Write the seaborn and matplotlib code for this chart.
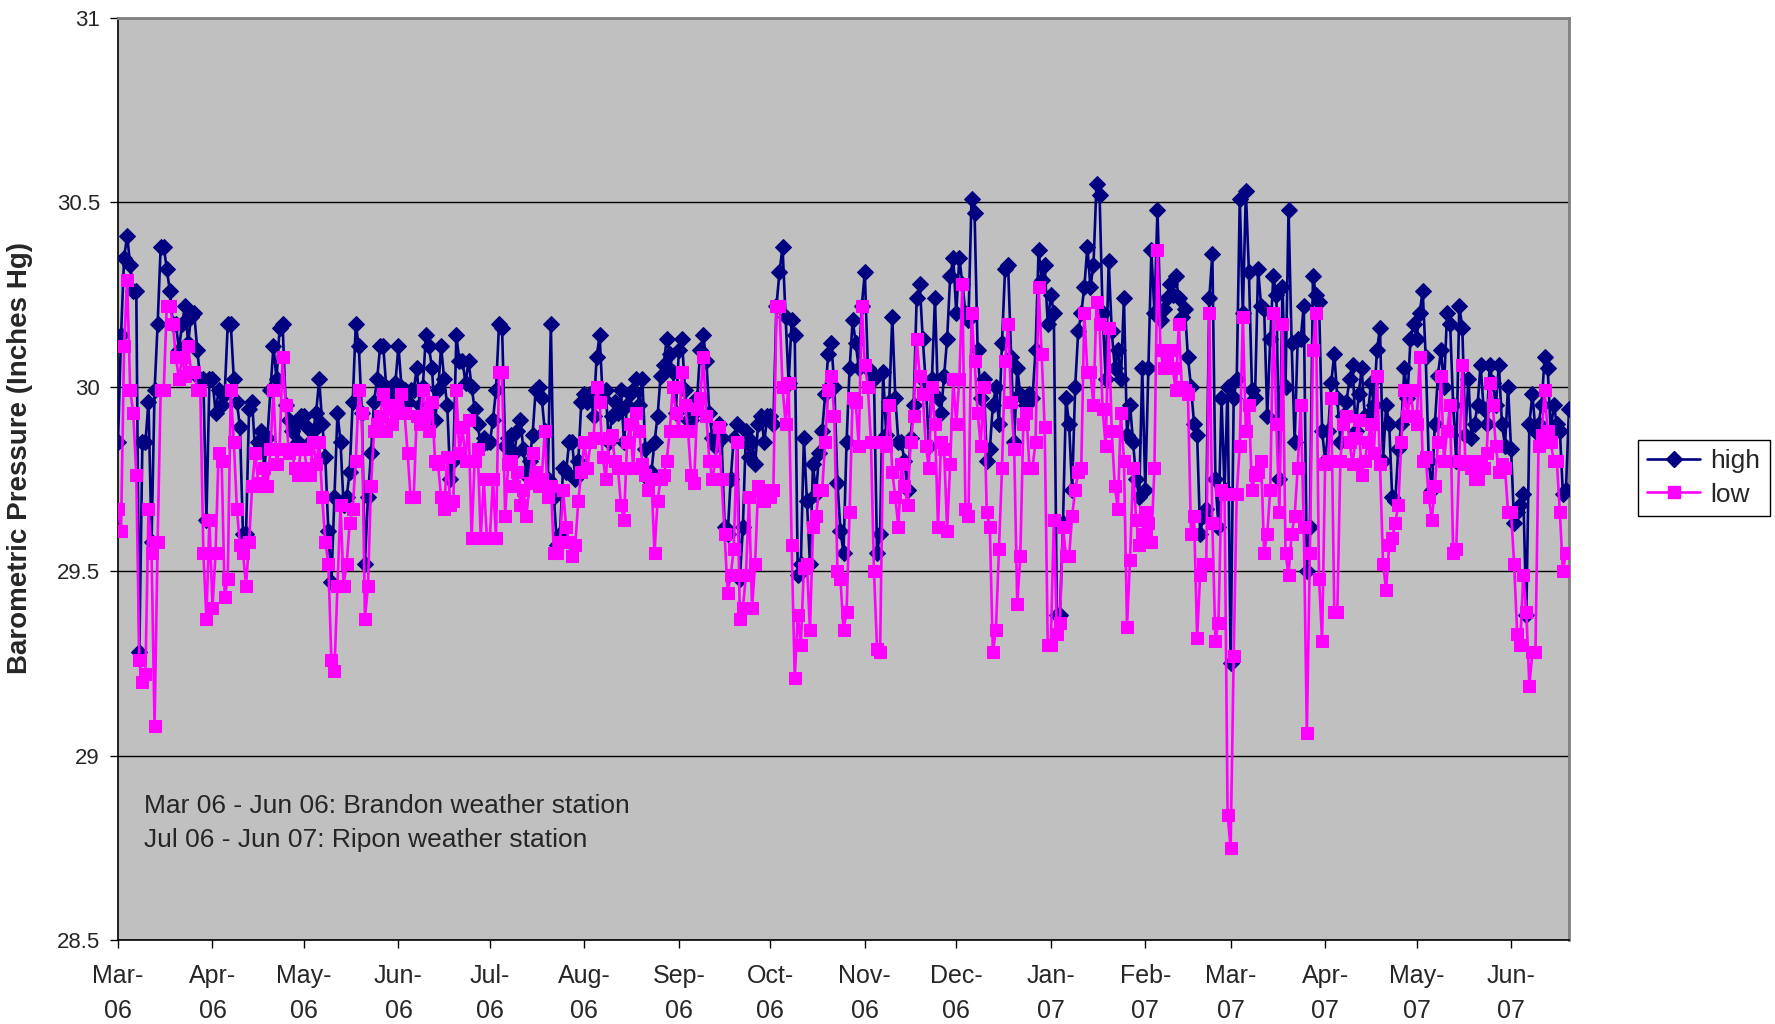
import pandas as pd
import matplotlib
matplotlib.use("Agg")
import matplotlib.pyplot as plt
import matplotlib.dates as mdates
import seaborn as sns
from matplotlib.lines import Line2D

# Daily barometric pressure readings (inches Hg), one value per day from 1 Mar 2006
start_date = "2006-03-01"

high_2006 = [
    # Mar
    29.85, 30.14, 30.35, 30.41, 30.33, 30.26, 30.26, 29.28, 29.85, 29.85,
    29.96, 29.58, 29.99, 30.17, 30.38, 30.38, 30.32, 30.26, 30.17, 30.17,
    30.10, 30.17, 30.22, 30.12, 30.19, 30.20, 30.10, 30.02, 30.02, 29.64, 30.02,
    # Apr
    30.02, 29.93, 29.99, 29.95, 29.98, 30.17, 30.17, 30.02, 29.96, 29.89,
    29.60, 29.60, 29.94, 29.96, 29.82, 29.85, 29.88, 29.78, 29.86, 29.99,
    30.11, 30.02, 30.16, 30.17, 29.95, 29.91, 29.88, 29.90, 29.85, 29.92,
    # May
    29.92, 29.89, 29.85, 29.88, 29.93, 30.02, 29.90, 29.81, 29.61, 29.47,
    29.70, 29.93, 29.85, 29.68, 29.70, 29.77, 29.96, 30.17, 30.11, 29.93,
    29.52, 29.70, 29.82, 29.96, 30.02, 30.11, 30.11, 30.00, 29.99, 29.96, 30.01,
    # Jun
    30.11, 30.00, 29.99, 29.96, 29.99, 29.99, 30.05, 29.95, 30.00, 30.14,
    30.11, 30.05, 29.91, 29.99, 30.11, 30.02, 29.95, 29.75, 29.80, 30.14,
    30.07, 30.07, 30.01, 30.07, 30.00, 29.94, 29.90, 29.84, 29.86, 29.85,
    # Jul
    29.85, 29.91, 29.99, 30.17, 30.16, 29.84, 29.86, 29.87, 29.82, 29.88,
    29.91, 29.83, 29.76, 29.80, 29.87, 29.99, 30.00, 29.97, 29.88, 29.75,
    30.17, 29.70, 29.57, 29.60, 29.78, 29.77, 29.85, 29.85, 29.75, 29.80, 29.96,
    # Aug
    29.98, 29.96, 29.98, 29.92, 30.08, 30.14, 29.97, 29.99, 29.85, 29.92,
    29.96, 29.93, 29.99, 29.85, 29.95, 29.98, 29.99, 30.02, 29.95, 30.02,
    29.83, 29.75, 29.77, 29.85, 29.92, 30.03, 30.06, 30.13, 30.09, 30.04, 29.93,
    # Sep
    30.10, 30.13, 29.99, 29.91, 29.91, 29.93, 29.97, 30.10, 30.14, 30.07,
    29.93, 29.86, 29.84, 29.90, 29.86, 29.62, 29.60, 29.75, 29.86, 29.90,
    29.48, 29.62, 29.88, 29.81, 29.85, 29.79, 29.90, 29.92, 29.85, 29.92,
    # Oct
    29.92, 29.90, 30.22, 30.31, 30.38, 30.19, 30.01, 30.18, 30.14, 29.49,
    29.52, 29.86, 29.69, 29.52, 29.79, 29.71, 29.82, 29.88, 29.98, 30.09,
    30.12, 30.00, 29.74, 29.61, 29.55, 29.85, 30.05, 30.18, 30.12, 30.05, 30.22,
    # Nov
    30.31, 30.05, 30.04, 30.02, 29.55, 29.60, 30.04, 29.87, 29.96, 30.19,
    29.97, 29.85, 29.85, 29.80, 29.72, 29.86, 29.95, 30.24, 30.28, 30.13,
    30.01, 29.84, 30.02, 30.24, 29.97, 29.93, 30.03, 30.13, 30.30, 30.35,
    # Dec
    30.20, 30.35, 30.28, 30.20, 30.18, 30.51, 30.47, 30.10, 29.97, 30.02,
    29.80, 29.83, 29.95, 30.00, 29.90, 30.12, 30.32, 30.33, 30.08, 29.85,
    30.05, 29.98, 29.97, 29.95, 29.98, 29.97, 30.10, 30.37, 30.29, 30.33, 30.17,
]

high_2007 = [
    # Jan
    30.25, 30.20, 29.38, 29.38, 29.63, 29.97, 29.90, 29.72, 30.00, 30.15,
    30.20, 30.27, 30.38, 30.27, 30.33, 30.55, 30.52, 30.20, 30.02, 30.34,
    30.15, 30.05, 30.10, 30.02, 30.24, 29.87, 29.95, 29.85, 29.75, 29.70, 30.05,
    # Feb
    29.72, 30.05, 30.37, 30.20, 30.48, 30.18, 30.21, 30.24, 30.28, 30.25,
    30.30, 30.24, 30.19, 30.21, 30.08, 30.00, 29.90, 29.87, 29.60, 29.65,
    29.67, 30.24, 30.36, 29.75, 29.62, 29.97, 29.72, 30.00,
    # Mar
    29.25, 29.97, 30.02, 30.51, 30.20, 30.53, 30.31, 29.99, 29.97, 30.32,
    30.22, 30.21, 29.92, 30.13, 30.30, 30.25, 29.75, 30.27, 30.00, 30.48,
    30.12, 29.85, 30.13, 30.13, 30.22, 29.50, 29.62, 30.30, 30.25, 30.23, 29.88,
    # Apr
    29.80, 29.88, 30.01, 30.09, 29.97, 29.85, 29.92, 29.96, 30.02, 30.06,
    29.88, 29.98, 30.05, 29.92, 29.92, 30.01, 29.95, 30.10, 30.16, 29.80,
    29.95, 29.90, 29.70, 29.69, 29.83, 29.90, 30.05, 29.97, 30.13, 30.17,
    # May
    30.13, 30.20, 30.26, 30.08, 29.80, 29.72, 29.90, 30.03, 30.10, 30.00,
    30.20, 30.17, 29.95, 29.80, 30.22, 30.16, 29.87, 30.02, 29.86, 29.90,
    29.95, 30.06, 29.94, 29.90, 30.06, 30.01, 29.95, 30.06, 29.90, 29.84, 30.00,
    # Jun
    29.83, 29.63, 29.66, 29.68, 29.71, 29.38, 29.90, 29.98, 29.88, 29.90,
    29.95, 30.08, 30.05, 29.88, 29.95, 29.90, 29.88, 29.71, 29.72, 29.94,
]

low_2006 = [
    # Mar
    29.67, 29.61, 30.11, 30.29, 29.99, 29.93, 29.76, 29.26, 29.20, 29.22,
    29.67, 29.55, 29.08, 29.58, 29.99, 29.99, 30.22, 30.22, 30.17, 30.08,
    30.02, 30.08, 30.03, 30.11, 30.04, 30.04, 29.99, 29.99, 29.55, 29.37, 29.64,
    # Apr
    29.40, 29.55, 29.82, 29.80, 29.43, 29.48, 29.99, 29.85, 29.67, 29.57,
    29.55, 29.46, 29.58, 29.73, 29.82, 29.74, 29.73, 29.78, 29.73, 29.83,
    29.99, 29.79, 29.83, 30.08, 29.95, 29.82, 29.83, 29.78, 29.76, 29.83,
    # May
    29.83, 29.78, 29.76, 29.85, 29.79, 29.85, 29.70, 29.58, 29.52, 29.26,
    29.23, 29.46, 29.68, 29.46, 29.52, 29.63, 29.67, 29.80, 29.99, 29.93,
    29.37, 29.46, 29.73, 29.88, 29.90, 29.92, 29.98, 29.88, 29.95, 29.90, 29.95,
    # Jun
    29.93, 29.98, 29.93, 29.82, 29.70, 29.70, 29.92, 29.90, 29.99, 29.93,
    29.88, 29.96, 29.80, 29.79, 29.70, 29.67, 29.81, 29.68, 29.69, 29.99,
    29.82, 29.89, 29.80, 29.91, 29.59, 29.80, 29.83, 29.59, 29.75, 29.59,
    # Jul
    29.59, 29.75, 29.59, 30.04, 30.04, 29.65, 29.79, 29.80, 29.73, 29.77,
    29.68, 29.72, 29.65, 29.74, 29.82, 29.77, 29.73, 29.75, 29.88, 29.70,
    29.73, 29.55, 29.55, 29.58, 29.72, 29.62, 29.58, 29.54, 29.57, 29.69, 29.77,
    # Aug
    29.85, 29.78, 29.85, 29.86, 30.00, 29.96, 29.81, 29.75, 29.86, 29.87,
    29.80, 29.78, 29.68, 29.64, 29.85, 29.90, 29.78, 29.93, 29.88, 29.79,
    29.76, 29.72, 29.75, 29.55, 29.69, 29.75, 29.76, 29.80, 29.88, 30.00, 29.93,
    # Sep
    29.88, 30.04, 29.95, 29.88, 29.76, 29.74, 29.94, 29.97, 30.08, 29.92,
    29.80, 29.75, 29.80, 29.89, 29.75, 29.60, 29.44, 29.49, 29.56, 29.85,
    29.37, 29.40, 29.49, 29.70, 29.40, 29.52, 29.73, 29.72, 29.69, 29.71,
    # Oct
    29.70, 29.72, 30.22, 30.22, 30.00, 29.90, 30.01, 29.57, 29.21, 29.38,
    29.30, 29.51, 29.52, 29.34, 29.62, 29.65, 29.72, 29.72, 29.85, 29.99,
    30.03, 29.92, 29.50, 29.48, 29.34, 29.39, 29.66, 29.97, 29.96, 29.84, 30.22,
    # Nov
    30.06, 30.00, 29.85, 29.50, 29.29, 29.28, 29.85, 29.84, 29.95, 29.77,
    29.70, 29.62, 29.79, 29.73, 29.68, 29.85, 29.92, 30.13, 30.03, 29.98,
    29.84, 29.78, 30.00, 29.90, 29.62, 29.85, 29.83, 29.61, 29.79, 30.02,
    # Dec
    29.90, 30.02, 30.28, 29.67, 29.65, 30.20, 30.07, 29.93, 29.84, 30.00,
    29.66, 29.62, 29.28, 29.34, 29.56, 29.78, 30.07, 30.17, 29.96, 29.83,
    29.41, 29.54, 29.90, 29.93, 29.78, 29.78, 29.85, 30.27, 30.09, 29.89, 29.30,
]

low_2007 = [
    # Jan
    29.30, 29.64, 29.33, 29.36, 29.62, 29.54, 29.54, 29.65, 29.72, 29.77,
    29.78, 30.20, 30.04, 30.04, 29.95, 30.23, 30.17, 29.94, 29.84, 30.16,
    29.88, 29.73, 29.67, 29.93, 29.80, 29.35, 29.53, 29.78, 29.64, 29.57, 29.60,
    # Feb
    29.66, 29.63, 29.58, 29.78, 30.37, 30.10, 30.05, 30.08, 30.10, 30.05,
    29.99, 30.17, 30.00, 29.99, 29.98, 29.60, 29.65, 29.32, 29.49, 29.52,
    29.52, 30.20, 29.63, 29.31, 29.36, 29.72, 29.71, 28.84,
    # Mar
    28.75, 29.27, 29.71, 29.84, 30.19, 29.88, 29.95, 29.72, 29.76, 29.77,
    29.80, 29.55, 29.60, 29.72, 30.20, 29.90, 29.66, 30.17, 29.55, 29.49,
    29.60, 29.65, 29.78, 29.95, 29.62, 29.06, 29.55, 30.10, 30.20, 29.48, 29.31,
    # Apr
    29.79, 29.80, 29.97, 29.39, 29.39, 29.80, 29.90, 29.92, 29.85, 29.79,
    29.86, 29.91, 29.76, 29.80, 29.85, 29.90, 29.82, 30.03, 29.79, 29.52,
    29.45, 29.57, 29.59, 29.63, 29.68, 29.85, 29.99, 29.92, 29.99, 29.92,
    # May
    29.90, 30.08, 29.80, 29.81, 29.70, 29.64, 29.73, 29.85, 30.03, 29.80,
    29.88, 29.95, 29.55, 29.56, 29.80, 30.06, 29.79, 29.80, 29.78, 29.75,
    29.75, 29.80, 29.78, 29.82, 30.01, 29.95, 29.84, 29.77, 29.79, 29.78, 29.66,
    # Jun
    29.66, 29.52, 29.33, 29.30, 29.49, 29.39, 29.19, 29.28, 29.28, 29.84,
    29.87, 29.99, 29.88, 29.85, 29.80, 29.80, 29.66, 29.50, 29.55, 29.55,
]

station_notes = [
    "Mar 06 - Jun 06: Brandon weather station",
    "Jul 06 - Jun 07: Ripon weather station",
]
y_label = "Barometric Pressure (Inches Hg)"

high = high_2006 + high_2007
low = low_2006 + low_2007
dates = pd.date_range(start_date, periods=len(high), freq="D")
df = pd.DataFrame({"date": dates, "high": high, "low": low})

HIGH_COLOR = "#000080"
LOW_COLOR = "#FF00FF"

sns.set_style("white")
plt.rcParams["font.family"] = ["Liberation Sans", "DejaVu Sans"]

fig = plt.figure(figsize=(17.75, 10.24), dpi=100)
ax = fig.add_axes([118 / 1775, 1 - 940 / 1024, (1569 - 118) / 1775, (940 - 18) / 1024])
ax.set_facecolor("#C0C0C0")

sns.lineplot(data=df, x="date", y="high", ax=ax, color=HIGH_COLOR, lw=1.9,
             marker="D", markersize=8.5, markeredgecolor=HIGH_COLOR,
             markerfacecolor=HIGH_COLOR, zorder=3)
sns.lineplot(data=df, x="date", y="low", ax=ax, color=LOW_COLOR, lw=1.9,
             marker="s", markersize=9, markeredgecolor=LOW_COLOR,
             markerfacecolor=LOW_COLOR, zorder=4)

ax.set_ylim(28.5, 31)
ax.set_yticks([28.5, 29, 29.5, 30, 30.5, 31])
ax.set_yticklabels(["28.5", "29", "29.5", "30", "30.5", "31"])
ax.set_xlim(dates[0], dates[-1])
ax.xaxis.set_major_locator(mdates.MonthLocator())
ax.xaxis.set_major_formatter(mdates.DateFormatter("%b-\n%y"))

ax.grid(axis="y", color="black", lw=1.0, zorder=1)
ax.grid(axis="x", visible=False)
ax.set_axisbelow(True)

ax.tick_params(axis="both", which="major", length=6, width=1,
               color="black", direction="out", bottom=True, left=True)
ax.tick_params(axis="x", labelsize=18, pad=11)
ax.tick_params(axis="y", labelsize=16, pad=7)
for lbl in ax.get_xticklabels():
    lbl.set_linespacing(1.6)

for side in ("left", "bottom"):
    ax.spines[side].set_color("black")
    ax.spines[side].set_linewidth(1.2)
for side in ("top", "right"):
    ax.spines[side].set_color("#808080")
    ax.spines[side].set_linewidth(2)

ax.set_xlabel("")
ax.set_ylabel("")
fig.text(20 / 1775, 1 - 458 / 1024, y_label, rotation=90, fontsize=20,
         fontweight="bold", ha="center", va="center")

ax.text(0.018, 0.145, station_notes[0], transform=ax.transAxes, fontsize=19,
        va="center", ha="left")
ax.text(0.018, 0.108, station_notes[1], transform=ax.transAxes, fontsize=19,
        va="center", ha="left")

handles = [
    Line2D([], [], color=HIGH_COLOR, lw=1.9, marker="D", markersize=8.5),
    Line2D([], [], color=LOW_COLOR, lw=1.9, marker="s", markersize=9),
]
leg = fig.legend(handles, ["high", "low"], loc="center left",
                 bbox_to_anchor=(1638 / 1775, 1 - 478 / 1024), fontsize=19,
                 frameon=True, fancybox=False, edgecolor="black",
                 framealpha=1, handlelength=2.0, borderpad=0.35,
                 labelspacing=0.35, handletextpad=0.4, borderaxespad=0)
leg.get_frame().set_linewidth(1.0)

fig.savefig("out.png", dpi=100, facecolor="white")
